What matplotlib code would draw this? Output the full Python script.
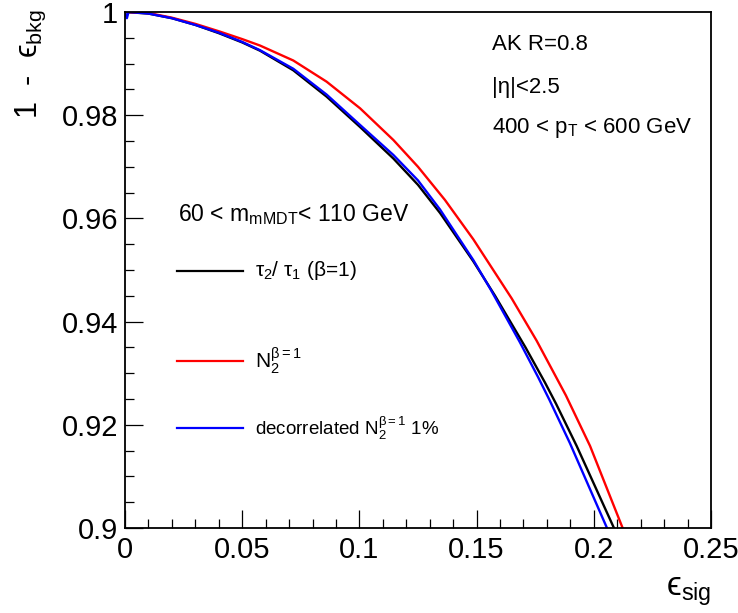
import matplotlib
matplotlib.use("Agg")
import matplotlib.pyplot as plt
from matplotlib.ticker import MultipleLocator, FuncFormatter
from matplotlib.lines import Line2D

plt.rcParams['font.family'] = ['Liberation Sans', 'DejaVu Sans']
plt.rcParams['mathtext.fontset'] = 'custom'
plt.rcParams['mathtext.rm'] = 'Liberation Sans'
plt.rcParams['mathtext.it'] = 'Liberation Sans'
plt.rcParams['mathtext.bf'] = 'Liberation Sans:bold'
plt.rcParams['mathtext.fallback'] = 'stixsans'

# ---- data ----
tau21_x = [0.0, 0.01, 0.02, 0.03, 0.04, 0.05, 0.0576, 0.0718, 0.086, 0.1003,
           0.1145, 0.125, 0.1344, 0.1486, 0.1578, 0.1709, 0.1792, 0.1839,
           0.1927, 0.2086, 0.2110]
tau21_y = [1.0, 0.9997, 0.9988, 0.9975, 0.9959, 0.9941, 0.9925, 0.9887,
           0.9836, 0.9777, 0.9716, 0.9665, 0.96105, 0.95168, 0.94506,
           0.93497, 0.92816, 0.92407, 0.91589, 0.9, 0.8975]

n2_x = [0.0, 0.01, 0.02, 0.03, 0.0405, 0.05, 0.0576, 0.0718, 0.086, 0.1003,
        0.1145, 0.125, 0.1365, 0.1486, 0.165, 0.1756, 0.1881, 0.1984,
        0.2123, 0.2150]
n2_y = [1.0, 0.9998, 0.9989, 0.9977, 0.9962, 0.99475, 0.9935, 0.9906,
        0.9865, 0.98133, 0.97519, 0.9700, 0.96357, 0.95595, 0.94447,
        0.93631, 0.92569, 0.9159, 0.9, 0.897]

dn2_x = [0.0, 0.0008, 0.0015, 0.01, 0.02, 0.03, 0.04, 0.05, 0.0576, 0.0718,
         0.086, 0.1003, 0.1145, 0.125, 0.1344, 0.1486, 0.1560, 0.1685,
         0.1763, 0.1810, 0.1898, 0.2062, 0.2085]
dn2_y = [1.0, 0.9988, 1.0, 0.9997, 0.9988, 0.9975, 0.9960, 0.9942, 0.9926,
         0.9890, 0.9840, 0.9781, 0.97229, 0.96736, 0.96172, 0.95192,
         0.94622, 0.93597, 0.92918, 0.9249, 0.91645, 0.8994, 0.8970]

series = [
    (tau21_x, tau21_y, 'black', r'$\tau_{2}$/ $\tau_{1}$ ($\beta$=1)', 15),
    (n2_x, n2_y, '#ff0000', r'N$_{2}^{\beta =1}$', 15),
    (dn2_x, dn2_y, '#0000ff', r'decorrelated N$_{2}^{\beta =1}$ 1%', 13.5),
]

legend_header = r'60 < m$_{\mathrm{mMDT}}$< 110 GeV'
info_lines = ['AK R=0.8', '|η|<2.5', r'400 < p$_{\mathrm{T}}$ < 600 GeV']

xticks = [0.0, 0.05, 0.1, 0.15, 0.2, 0.25]
yticks = [0.9, 0.92, 0.94, 0.96, 0.98, 1.0]

# ---- figure ----
W, H = 738, 613
fig = plt.figure(figsize=(W / 100, H / 100), dpi=100)
L, R, T, B = 125, 711, 12, 528
ax = fig.add_axes([L / W, 1 - B / H, (R - L) / W, (B - T) / H])

for x, y, c, lab, fs in series:
    ax.plot(x, y, color=c, lw=1.7, solid_joinstyle='round', clip_on=True)

ax.set_xlim(0, 0.25)
ax.set_ylim(0.9, 1.0)
ax.set_xticks(xticks)
ax.set_yticks(yticks)
fmt = FuncFormatter(lambda v, p: f"{v:g}")
ax.xaxis.set_major_formatter(fmt)
ax.yaxis.set_major_formatter(fmt)
ax.xaxis.set_minor_locator(MultipleLocator(0.01))
ax.yaxis.set_minor_locator(MultipleLocator(0.005))
ax.tick_params(which='both', direction='in', top=False, right=False,
               width=0.9, colors='black')
ax.tick_params(which='major', length=13, labelsize=21)
ax.tick_params(which='minor', length=6.5)
ax.tick_params(axis='x', which='major', pad=6)
ax.tick_params(axis='y', which='major', pad=5)
for s in ax.spines.values():
    s.set_linewidth(1.3)

ax.set_ylabel('1  -  ϵ$_{\\mathrm{bkg}}$', fontsize=22, loc='top')
ax.yaxis.set_label_coords(-0.131, 1.006)
ax.set_xlabel('ϵ$_{\\mathrm{sig}}$', fontsize=24, loc='right')
ax.xaxis.set_label_coords(1.0, -0.092)

# info text (top right)
for txt, py in zip(info_lines, [45, 87, 128]):
    ax.text((492 - L) / (R - L), (B - py) / (B - T), txt, transform=ax.transAxes,
            fontsize=16, ha='left', va='center')

# legend (drawn in axes coordinates)
ax.text((178 - L) / (R - L), (B - 215) / (B - T), legend_header,
        transform=ax.transAxes, fontsize=16.5, ha='left', va='center')
for (x, y, c, lab, fs), py in zip(series, [271, 361, 428]):
    ya = (B - py) / (B - T)
    ax.add_line(Line2D([(177 - L) / (R - L), (243 - L) / (R - L)], [ya, ya],
                       transform=ax.transAxes, color=c, lw=1.6))
    ax.text((255 - L) / (R - L), ya, lab, transform=ax.transAxes,
            fontsize=fs, ha='left', va='center')

fig.savefig('out.png', dpi=100)
